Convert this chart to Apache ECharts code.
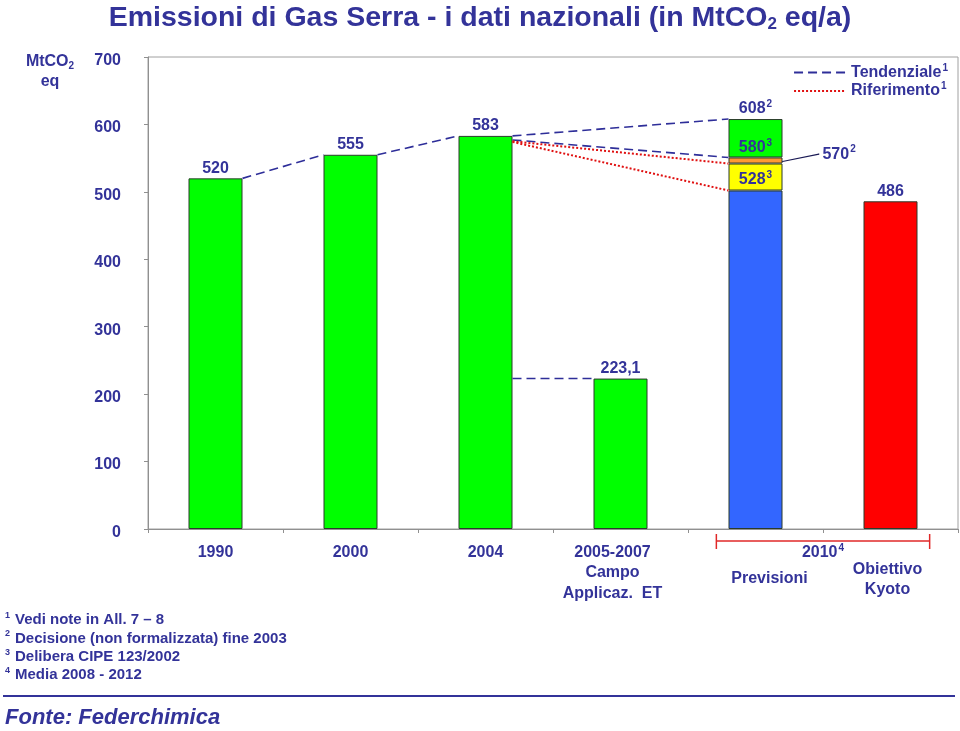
<!DOCTYPE html>
<html>
<head>
<meta charset="utf-8">
<script src="https://cdn.jsdelivr.net/npm/echarts@6/dist/echarts.min.js"></script>
<style>
html,body{margin:0;padding:0;background:#fff;}
#c{width:960px;height:731px;}
</style>
</head>
<body>
<div id="c"></div>
<script>
// ---- data ----
const categories = ['1990', '2000', '2004', '2005-2007', '2010', 'Kyoto'];
// base bar (green for historical, blue for 2010 forecast, red for Kyoto target)
const baseValues = [520, 555, 583, 223.1, 502, 486];
// stacked parts on the 2010 bar
const yellowValues = ['-', '-', '-', '-', 40, '-'];
const orangeValues = ['-', '-', '-', '-', 9, '-'];
const greenTopValues = ['-', '-', '-', '-', 57, '-'];
// value labels
const baseLabels = ['520', '555', '583', '223,1', '', '486'];
const yellowLabels = ['', '', '', '', '528|3', ''];
const greenTopLabels = ['', '', '', '', '580|3', ''];
const topLabel2010 = '608|2';
// dashed "Tendenziale" segments: [fromCategory, fromValue, toCategory, toValue]
const tendenzialeSegments = [
  [0, 520, 1, 555],
  [1, 555, 2, 583],
  [2, 583, 4, 608],
  [2, 577, 4, 551],
  [2, 223.1, 3, 223.1]
];
// dotted "Riferimento" segments
const riferimentoSegments = [
  [2, 575, 4, 542],
  [2, 574, 4, 502]
];
// leader line to the "570" note: [category, fromValue, toValue]
const leader570 = [4, 545, 556];
const label570 = '570|2';
const yTicks = [0, 700, 100];

const NAVY = '#333399';
const FONT = "'Liberation Sans', Arial, Helvetica, sans-serif";
const HALF = 0.2; // half bar width in category units

const chart = echarts.init(document.getElementById('c'));

function richLabel(s) {
  if (!s) return '';
  const p = s.split('|');
  return p.length > 1 ? '{v|' + p[0] + '}{s|' + p[1] + '}' : '{v|' + p[0] + '}';
}
const valueRich = {
  v: {fontSize: 16, fontWeight: 'bold', color: NAVY, fontFamily: FONT, lineHeight: 18},
  s: {fontSize: 10, fontWeight: 'bold', color: NAVY, fontFamily: FONT, padding: [0, 0, 9, 1]}
};

const baseColors = ['#00FF00', '#00FF00', '#00FF00', '#00FF00', '#3366FF', '#FF0000'];

const series = [];
series.push({
  type: 'bar', stack: 'a', barWidth: '40%',
  data: baseValues.map((v, i) => ({value: v, itemStyle: {color: baseColors[i]}})),
  itemStyle: {borderColor: '#2b3b2b', borderWidth: 1},
  label: {show: true, position: 'top', distance: 1,
    formatter: p => richLabel(baseLabels[p.dataIndex]), rich: valueRich},
  z: 3
});
series.push({
  type: 'bar', stack: 'a', barWidth: '40%', data: yellowValues,
  itemStyle: {color: '#FFFF00', borderColor: '#2b3b2b', borderWidth: 1},
  label: {show: true, position: 'insideBottom', distance: 1,
    formatter: p => richLabel(yellowLabels[p.dataIndex]), rich: valueRich},
  z: 3
});
series.push({
  type: 'bar', stack: 'a', barWidth: '40%', data: orangeValues,
  itemStyle: {color: '#FF9933', borderColor: '#2b3b2b', borderWidth: 1},
  z: 3
});
series.push({
  type: 'bar', stack: 'a', barWidth: '40%', data: greenTopValues,
  itemStyle: {color: '#00FF00', borderColor: '#2b3b2b', borderWidth: 1},
  label: {show: true, position: 'insideBottom', distance: 0,
    formatter: p => richLabel(greenTopLabels[p.dataIndex]), rich: valueRich},
  z: 3
});
// top label for 2010 stack
series.push({
  type: 'bar', stack: 'a', barWidth: '40%',
  data: ['-', '-', '-', '-', 0, '-'],
  itemStyle: {color: 'transparent'},
  label: {show: true, position: 'top', distance: 1,
    formatter: () => richLabel(topLabel2010), rich: valueRich},
  z: 3
});

function segSeries(seg, name, style) {
  return {
    type: 'line', name: name, xAxisIndex: 1, yAxisIndex: 0,
    symbol: 'none', silent: true, z: 5,
    data: [[seg[0] + 0.5 + HALF, seg[1]], [seg[2] + 0.5 - HALF, seg[3]]],
    lineStyle: style, color: style.color
  };
}
const tendStyle = {color: '#2E2E99', width: 1.6, type: [9, 5]};
const rifStyle = {color: '#E01010', width: 2, type: [2, 2]};
tendenzialeSegments.forEach(s => series.push(segSeries(s, 'Tendenziale', tendStyle)));
riferimentoSegments.forEach(s => series.push(segSeries(s, 'Riferimento', rifStyle)));

series.push({
  type: 'line', xAxisIndex: 1, yAxisIndex: 0, symbol: 'circle', symbolSize: 1,
  showSymbol: true, silent: true, z: 5,
  itemStyle: {color: '#1a1a55'},
  lineStyle: {color: '#1a1a55', width: 1.2},
  label: {show: true, position: 'right', distance: 3,
    formatter: p => p.dataIndex === 1 ? richLabel(label570) : '', rich: valueRich},
  data: [[leader570[0] + 0.5 + HALF, leader570[1]],
         [leader570[0] + 0.5 + HALF + 0.27, leader570[2]]]
});

const lab = {fontSize: 16, fontWeight: 'bold', color: NAVY, fontFamily: FONT};
const xLabelRich = {
  y: Object.assign({lineHeight: 20.5}, lab),
  y3: Object.assign({lineHeight: 20.5, padding: [0, 16, 0, 0]}, lab),
  e1: Object.assign({lineHeight: 27}, lab),
  e2: Object.assign({lineHeight: 18}, lab),
  p: Object.assign({lineHeight: 20, padding: [0, 0, 0, 28]}, lab),
  o: Object.assign({lineHeight: 20, padding: [0, 6, 0, 0]}, lab)
};
const xLabelText = [
  '{y|1990}', '{y|2000}', '{y|2004}',
  '{y3|2005-2007}\n{y3|Campo}\n{y3|Applicaz.  ET}',
  '{e1| }\n{p|Previsioni}',
  '{e2| }\n{o|Obiettivo}\n{o|Kyoto}'
];

const option = {
  animation: false,
  backgroundColor: '#fff',
  title: {
    text: '{t|Emissioni di Gas Serra - i dati nazionali (in MtCO}{sub|2}{t| eq/a)}',
    left: 'center', top: 2, padding: 0,
    textStyle: {
      rich: {
        t: {fontSize: 28.5, fontWeight: 'bold', color: NAVY, fontFamily: FONT, lineHeight: 32},
        sub: {fontSize: 17, fontWeight: 'bold', color: NAVY, fontFamily: FONT, padding: [12, 0, 0, 0]}
      }
    }
  },
  legend: {
    orient: 'vertical', right: 7, top: 58, itemWidth: 52, itemHeight: 10, itemGap: 1,
    data: ['Tendenziale', 'Riferimento'],
    formatter: n => '{n|' + n + '}{s|1}',
    textStyle: {rich: {
      n: {fontSize: 16, fontWeight: 'bold', color: NAVY, fontFamily: FONT},
      s: {fontSize: 10, fontWeight: 'bold', color: NAVY, fontFamily: FONT, padding: [0, 0, 9, 1]}
    }},
    itemStyle: {opacity: 0}
  },
  grid: {left: 148, right: 2, top: 57, bottom: 202, show: true, borderColor: '#a0a0a0', borderWidth: 1},
  xAxis: [{
    type: 'category', data: categories,
    axisLine: {lineStyle: {color: '#909090'}},
    axisTick: {show: true, length: 4, lineStyle: {color: '#909090'}},
    axisLabel: {margin: 13, interval: 0, formatter: (v, i) => xLabelText[i], rich: xLabelRich}
  }, {
    type: 'value', min: 0, max: categories.length, show: false
  }],
  yAxis: {
    type: 'value', min: yTicks[0], max: yTicks[1], interval: yTicks[2],
    axisLine: {show: true, lineStyle: {color: '#909090'}},
    axisTick: {show: true, length: 4, lineStyle: {color: '#909090'}},
    splitLine: {show: false},
    axisLabel: {margin: 27, fontSize: 16, fontWeight: 'bold', color: NAVY, fontFamily: FONT,
      verticalAlign: 'top', lineHeight: 7}
  },
  series: series
};
chart.setOption(option);

// annotations below the axis
const xa = v => chart.convertToPixel({xAxisIndex: 1}, v);
const bx1 = xa(4.21), bx2 = xa(5.79);
const axisY = chart.convertToPixel({yAxisIndex: 0}, 0);
const by = axisY + 12;
const red = {stroke: '#E02828', lineWidth: 1.5};
const footStyle = {fontSize: 15, fontWeight: 'bold', fill: NAVY, fontFamily: FONT};
const supStyle = {fontSize: 9, fontWeight: 'bold', fill: NAVY, fontFamily: FONT, padding: [0, 5, 9, 0]};
const footnotes = [
  ['1', 'Vedi note in All. 7 \u2013 8'],
  ['2', 'Decisione (non formalizzata) fine 2003'],
  ['3', 'Delibera CIPE 123/2002'],
  ['4', 'Media 2008 - 2012']
];
chart.setOption({
  graphic: [
    {type: 'line', shape: {x1: bx1, y1: by, x2: bx2, y2: by}, style: red, silent: true},
    {type: 'line', shape: {x1: bx1, y1: by - 7, x2: bx1, y2: by + 8}, style: red, silent: true},
    {type: 'line', shape: {x1: bx2, y1: by - 7, x2: bx2, y2: by + 8}, style: red, silent: true},
    {type: 'text', x: xa(5.0), y: axisY + 24, silent: true,
      style: {text: '{a|2010}{s|4}', align: 'center', verticalAlign: 'middle',
        rich: {a: {fontSize: 16, fontWeight: 'bold', fill: NAVY, fontFamily: FONT},
               s: {fontSize: 10, fontWeight: 'bold', fill: NAVY, fontFamily: FONT, padding: [0, 0, 9, 1]}}}},
    {type: 'text', x: 50, y: 72, silent: true,
      style: {text: '{a|MtCO}{s|2}\n{a|eq}', align: 'center', verticalAlign: 'middle',
        rich: {a: {fontSize: 16, fontWeight: 'bold', fill: NAVY, fontFamily: FONT, lineHeight: 20, align: 'center'},
               s: {fontSize: 10, fontWeight: 'bold', fill: NAVY, fontFamily: FONT, padding: [9, 0, 0, 0]}}}},
    {type: 'group', left: 5, top: 611, silent: true,
      children: footnotes.map((f, i) => ({
        type: 'text', x: 0, y: i * 18.4,
        style: {text: '{s|' + f[0] + '}{t|' + f[1] + '}', rich: {t: footStyle, s: supStyle}}
      }))},
    {type: 'line', shape: {x1: 3, y1: 696, x2: 955, y2: 696}, style: {stroke: NAVY, lineWidth: 2}, silent: true},
    {type: 'text', left: 5, top: 707, silent: true,
      style: {text: 'Fonte: Federchimica', fontSize: 22, fontWeight: 'bold', fontStyle: 'italic', fill: NAVY, fontFamily: FONT}}
  ]
});
</script>
</body>
</html>
